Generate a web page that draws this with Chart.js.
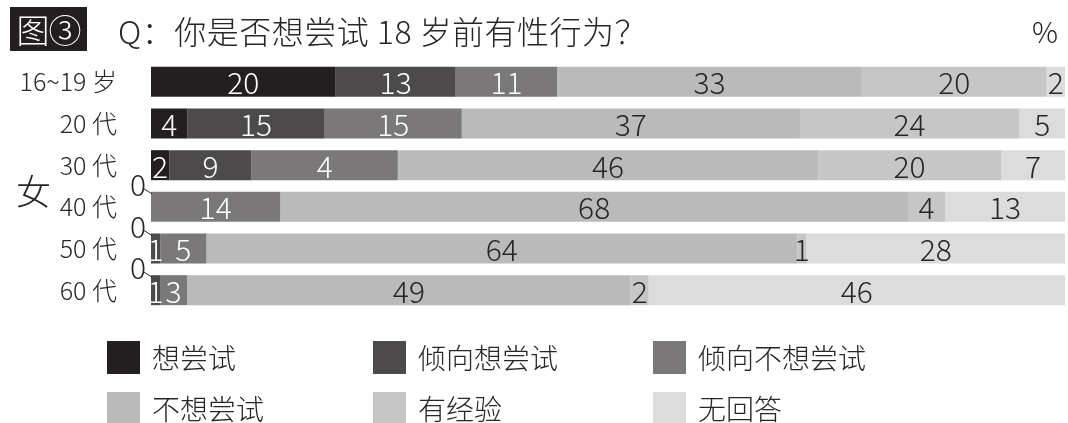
<!DOCTYPE html>
<html>
<head>
<meta charset="utf-8">
<script src="https://cdn.jsdelivr.net/npm/chart.js@4/dist/chart.umd.min.js"></script>
<style>
  html, body { margin: 0; padding: 0; background: #fff; }
  #wrap { position: relative; width: 1068px; height: 423px; overflow: hidden;
          font-family: "Noto Sans CJK SC", "Noto Sans", sans-serif; color: #262626; }
  #chart-box { position: absolute; left: 0; top: 0; width: 1068px; height: 423px; }
  .fig-tag { position: absolute; left: 10px; top: 7px; width: 77px; height: 44px; background: #231f20;
             color: #fff; font-size: 33px; line-height: 44px; text-align: center; font-weight: 300; letter-spacing: -1px; }
  .question { position: absolute; left: 118px; top: 8px; font-size: 32px; line-height: 44px; font-weight: 300; letter-spacing: 0.5px; }
  .unit { position: absolute; left: 1032px; top: 8px; font-size: 29px; line-height: 44px; font-weight: 300; }
  .sex { position: absolute; left: 16px; top: 166px; font-size: 35px; line-height: 48px; font-weight: 300; }
  .legend-item { position: absolute; height: 34px; display: flex; align-items: center; }
  .legend-item span.box { width: 33px; height: 33px; display: inline-block; }
  .legend-item span.txt { margin-left: 12px; font-size: 28px; font-weight: 300; line-height: 34px; }
</style>
</head>
<body>
<div id="wrap">
  <div id="chart-box"><canvas id="survey-chart"></canvas></div>
  <div class="fig-tag">图③</div>
  <div class="question">Q：你是否想尝试 18 岁前有性行为？</div>
  <div class="unit">%</div>
  <div class="sex">女</div>
  <div id="legend"></div>
</div>
<script>
const ages = ['16~19 岁', '20 代', '30 代', '40 代', '50 代', '60 代'];
const seriesNames = ['想尝试', '倾向想尝试', '倾向不想尝试', '不想尝试', '有经验', '无回答'];
const seriesColors = ['#231f20', '#4d4a4b', '#7a7879', '#bbbaba', '#c7c6c6', '#dcdcdc'];

const wantTry = [20, 4, 2, 0, 0, 0];
const leanTry = [13, 15, 9, 0, 1, 1];
// 30代 segment is printed "4" in the source but its bar spans about 16
const leanNot = [11, 15, 16, 14, 5, 3];
const leanNotText = ['11', '15', '4', '14', '5', '3'];
const notTry = [33, 37, 46, 68, 64, 49];
const hadSex = [20, 24, 20, 4, 1, 2];
const noAnswer = [2, 5, 7, 13, 28, 46];

const allSeries = [wantTry, leanTry, leanNot, notTry, hadSex, noAnswer];
const seriesText = [null, null, leanNotText, null, null, null];

// each row is drawn as a share of its own total so all bars end at the same edge
const rowTotals = ages.map((a, i) => allSeries.reduce((s, arr) => s + arr[i], 0));

const labelFont = '300 30px "Noto Sans CJK SC", "Noto Sans", sans-serif';

const segmentLabels = {
    id: 'segmentLabels',
    afterDatasetsDraw(chart) {
        const ctx = chart.ctx;
        ctx.save();
        ctx.font = labelFont;
        ctx.textAlign = 'center';
        ctx.textBaseline = 'middle';
        chart.data.datasets.forEach((ds, di) => {
            const meta = chart.getDatasetMeta(di);
            meta.data.forEach((bar, i) => {
                const raw = allSeries[di][i];
                if (!raw) return;
                const txt = seriesText[di] ? seriesText[di][i] : String(raw);
                ctx.fillStyle = di < 3 ? '#ffffff' : '#262626';
                ctx.fillText(txt, (bar.x + bar.base) / 2, bar.y + 1);
            });
        });
        // zero values of the first series sit outside the bar with a short leader
        const first = chart.getDatasetMeta(0);
        first.data.forEach((bar, i) => {
            if (wantTry[i] !== 0) return;
            const top = bar.y - bar.height / 2;
            const left = chart.chartArea.left;
            ctx.fillStyle = '#262626';
            ctx.textAlign = 'right';
            ctx.textBaseline = 'alphabetic';
            ctx.fillText('0', left - 5, top + 4);
            ctx.strokeStyle = '#262626';
            ctx.lineWidth = 1;
            ctx.beginPath();
            ctx.moveTo(left - 7, top - 3);
            ctx.lineTo(left + 1, top + 2);
            ctx.stroke();
        });
        ctx.restore();
    }
};

const surveyCtx = document.querySelector('#survey-chart').getContext('2d');

const surveyGraph = new Chart(surveyCtx, {
    type: 'bar',
    data: {
        labels: ages,
        datasets: allSeries.map((arr, di) => ({
            label: seriesNames[di],
            data: arr.map((v, i) => v / rowTotals[i] * 100),
            backgroundColor: seriesColors[di],
            borderWidth: 0,
            barPercentage: 1,
            categoryPercentage: 0.72
        }))
    },
    options: {
        indexAxis: 'y',
        responsive: true,
        maintainAspectRatio: false,
        animation: false,
        layout: {
            padding: { top: 61, bottom: 112, left: 0, right: 3 }
        },
        plugins: {
            legend: { display: false },
            tooltip: { enabled: false }
        },
        scales: {
            x: {
                stacked: true,
                min: 0,
                max: 100,
                display: false
            },
            y: {
                stacked: true,
                grid: { display: false, drawTicks: false },
                border: { display: false },
                ticks: {
                    color: '#262626',
                    padding: 34,
                    font: { family: '"Noto Sans CJK SC", "Noto Sans", sans-serif', size: 25, weight: '300' }
                },
                afterFit(scale) { scale.width = 151; }
            }
        }
    },
    plugins: [segmentLabels]
});

// legend in two rows of three, built from the datasets
const legendSpots = [[107, 340], [373, 340], [653, 340], [107, 391], [373, 391], [653, 391]];
const legendEl = document.getElementById('legend');
seriesNames.forEach((name, i) => {
    const item = document.createElement('div');
    item.className = 'legend-item';
    item.style.left = legendSpots[i][0] + 'px';
    item.style.top = legendSpots[i][1] + 'px';
    item.innerHTML = '<span class="box" style="background:' + seriesColors[i] + '"></span><span class="txt">' + name + '</span>';
    legendEl.appendChild(item);
});
</script>
</body>
</html>
